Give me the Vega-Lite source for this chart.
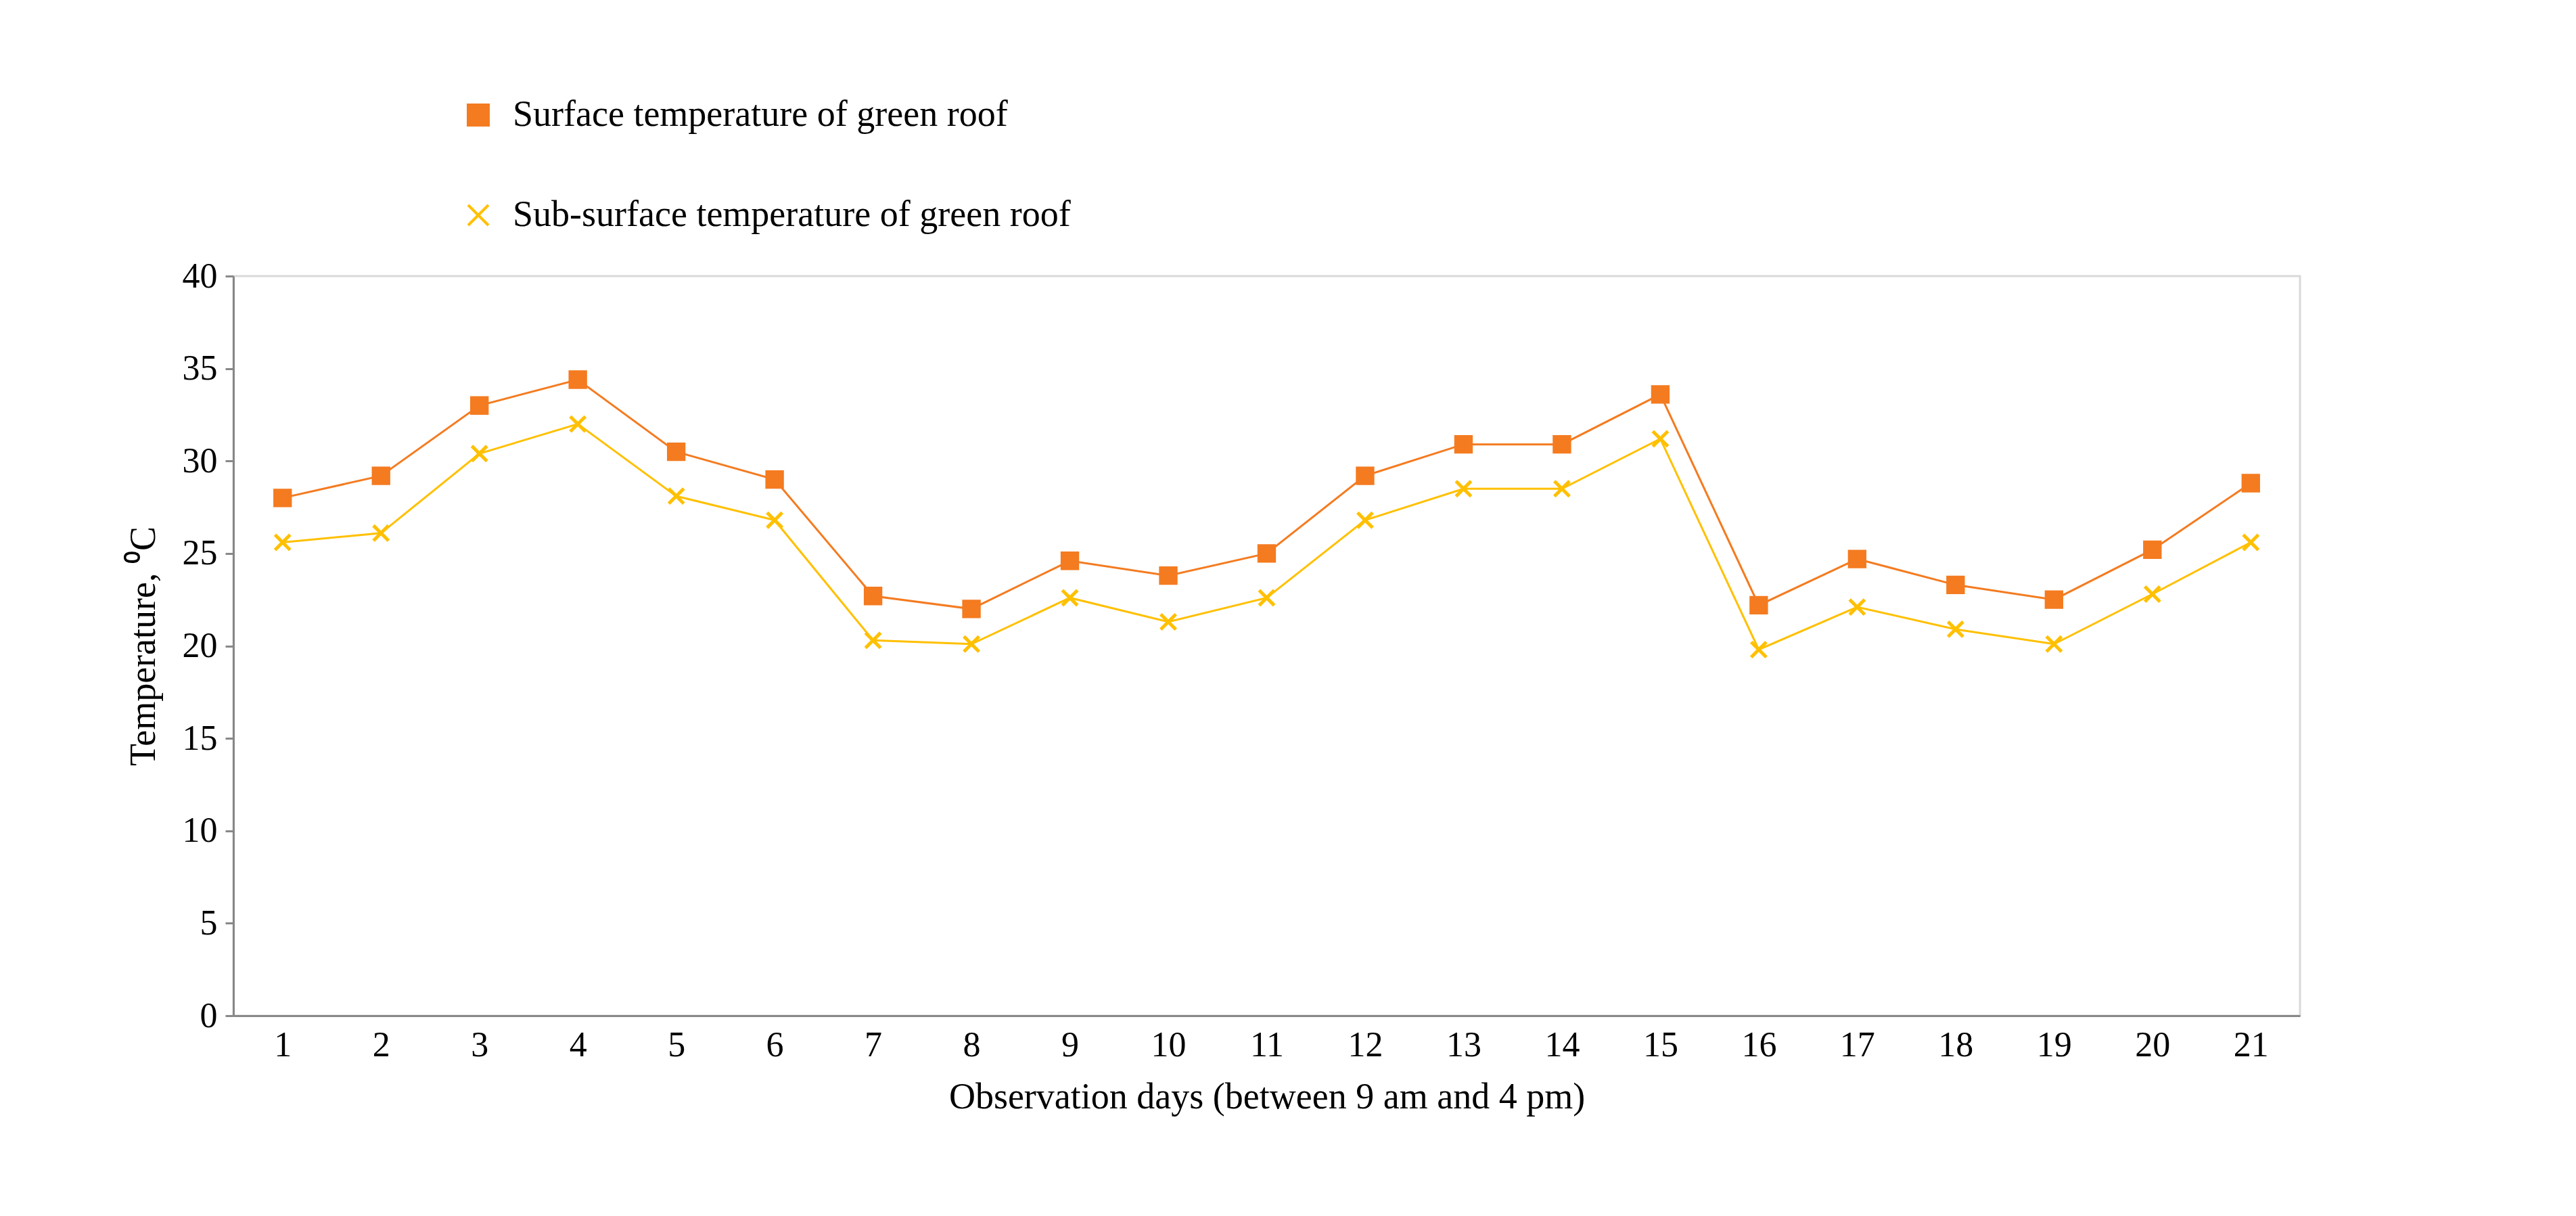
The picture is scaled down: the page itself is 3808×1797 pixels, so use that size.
{
  "$schema": "https://vega.github.io/schema/vega-lite/v6.json",
  "width": 3055,
  "height": 1093,
  "autosize": {"type": "none"},
  "padding": {"left": 345, "top": 408, "right": 408, "bottom": 296},
  "background": "white",
  "config": {
    "font": "Liberation Serif",
    "view": {"stroke": "#d9d9d9", "strokeWidth": 3}
  },
  "data": {
    "values": [
      {"day": 1, "s": "Surface temperature of green roof", "t": 28.0},
      {"day": 2, "s": "Surface temperature of green roof", "t": 29.2},
      {"day": 3, "s": "Surface temperature of green roof", "t": 33.0},
      {"day": 4, "s": "Surface temperature of green roof", "t": 34.4},
      {"day": 5, "s": "Surface temperature of green roof", "t": 30.5},
      {"day": 6, "s": "Surface temperature of green roof", "t": 29.0},
      {"day": 7, "s": "Surface temperature of green roof", "t": 22.7},
      {"day": 8, "s": "Surface temperature of green roof", "t": 22.0},
      {"day": 9, "s": "Surface temperature of green roof", "t": 24.6},
      {"day": 10, "s": "Surface temperature of green roof", "t": 23.8},
      {"day": 11, "s": "Surface temperature of green roof", "t": 25.0},
      {"day": 12, "s": "Surface temperature of green roof", "t": 29.2},
      {"day": 13, "s": "Surface temperature of green roof", "t": 30.9},
      {"day": 14, "s": "Surface temperature of green roof", "t": 30.9},
      {"day": 15, "s": "Surface temperature of green roof", "t": 33.6},
      {"day": 16, "s": "Surface temperature of green roof", "t": 22.2},
      {"day": 17, "s": "Surface temperature of green roof", "t": 24.7},
      {"day": 18, "s": "Surface temperature of green roof", "t": 23.3},
      {"day": 19, "s": "Surface temperature of green roof", "t": 22.5},
      {"day": 20, "s": "Surface temperature of green roof", "t": 25.2},
      {"day": 21, "s": "Surface temperature of green roof", "t": 28.8},
      {"day": 1, "s": "Sub-surface temperature of green roof", "t": 25.6},
      {"day": 2, "s": "Sub-surface temperature of green roof", "t": 26.1},
      {"day": 3, "s": "Sub-surface temperature of green roof", "t": 30.4},
      {"day": 4, "s": "Sub-surface temperature of green roof", "t": 32.0},
      {"day": 5, "s": "Sub-surface temperature of green roof", "t": 28.1},
      {"day": 6, "s": "Sub-surface temperature of green roof", "t": 26.8},
      {"day": 7, "s": "Sub-surface temperature of green roof", "t": 20.3},
      {"day": 8, "s": "Sub-surface temperature of green roof", "t": 20.1},
      {"day": 9, "s": "Sub-surface temperature of green roof", "t": 22.6},
      {"day": 10, "s": "Sub-surface temperature of green roof", "t": 21.3},
      {"day": 11, "s": "Sub-surface temperature of green roof", "t": 22.6},
      {"day": 12, "s": "Sub-surface temperature of green roof", "t": 26.8},
      {"day": 13, "s": "Sub-surface temperature of green roof", "t": 28.5},
      {"day": 14, "s": "Sub-surface temperature of green roof", "t": 28.5},
      {"day": 15, "s": "Sub-surface temperature of green roof", "t": 31.2},
      {"day": 16, "s": "Sub-surface temperature of green roof", "t": 19.8},
      {"day": 17, "s": "Sub-surface temperature of green roof", "t": 22.1},
      {"day": 18, "s": "Sub-surface temperature of green roof", "t": 20.9},
      {"day": 19, "s": "Sub-surface temperature of green roof", "t": 20.1},
      {"day": 20, "s": "Sub-surface temperature of green roof", "t": 22.8},
      {"day": 21, "s": "Sub-surface temperature of green roof", "t": 25.6}
    ]
  },
  "encoding": {
    "x": {
      "field": "day", "type": "ordinal",
      "scale": {"type": "point", "padding": 0.5},
      "axis": {
        "title": "Observation days (between 9 am and 4 pm)",
        "titleFontSize": 54, "titleFontWeight": "normal", "titleColor": "black", "titlePadding": 24,
        "labelFontSize": 52, "labelColor": "black", "labelAngle": 0, "labelPadding": 18,
        "domainColor": "#888", "domainWidth": 3, "ticks": false
      }
    },
    "y": {
      "field": "t", "type": "quantitative",
      "scale": {"domain": [0, 40]},
      "axis": {
        "title": "Temperature, ⁰C", "values": [0, 5, 10, 15, 20, 25, 30, 35, 40],
        "titleFontSize": 54, "titleFontWeight": "normal", "titleColor": "black", "titlePadding": 30,
        "labelFontSize": 52, "labelColor": "black", "labelPadding": 12,
        "grid": false, "domainColor": "#888", "domainWidth": 3, "tickColor": "#888", "tickWidth": 3, "tickSize": 12
      }
    },
    "color": {
      "field": "s", "type": "nominal",
      "scale": {
        "domain": ["Surface temperature of green roof", "Sub-surface temperature of green roof"],
        "range": ["#f47b20", "#ffc000"]
      },
      "legend": {
        "title": null, "orient": "none", "legendX": 335, "legendY": -265,
        "labelFontSize": 54, "labelColor": "black", "rowPadding": 94, "labelLimit": 0,
        "symbolSize": 900, "symbolStrokeWidth": 4, "labelOffset": 24
      }
    }
  },
  "layer": [
    {"mark": {"type": "line", "strokeWidth": 3}},
    {
      "mark": {"type": "point", "filled": true, "strokeWidth": 5, "size": 500, "opacity": 1},
      "encoding": {
        "shape": {
          "field": "s", "type": "nominal",
          "scale": {
            "domain": ["Surface temperature of green roof", "Sub-surface temperature of green roof"],
            "range": ["square", "M-1,-1L1,1M1,-1L-1,1"]
          }
        },
        "stroke": {"field": "s", "type": "nominal", "legend": null,
          "scale": {"domain": ["Surface temperature of green roof", "Sub-surface temperature of green roof"], "range": ["#f47b20", "#ffc000"]}}
      }
    }
  ]
}
